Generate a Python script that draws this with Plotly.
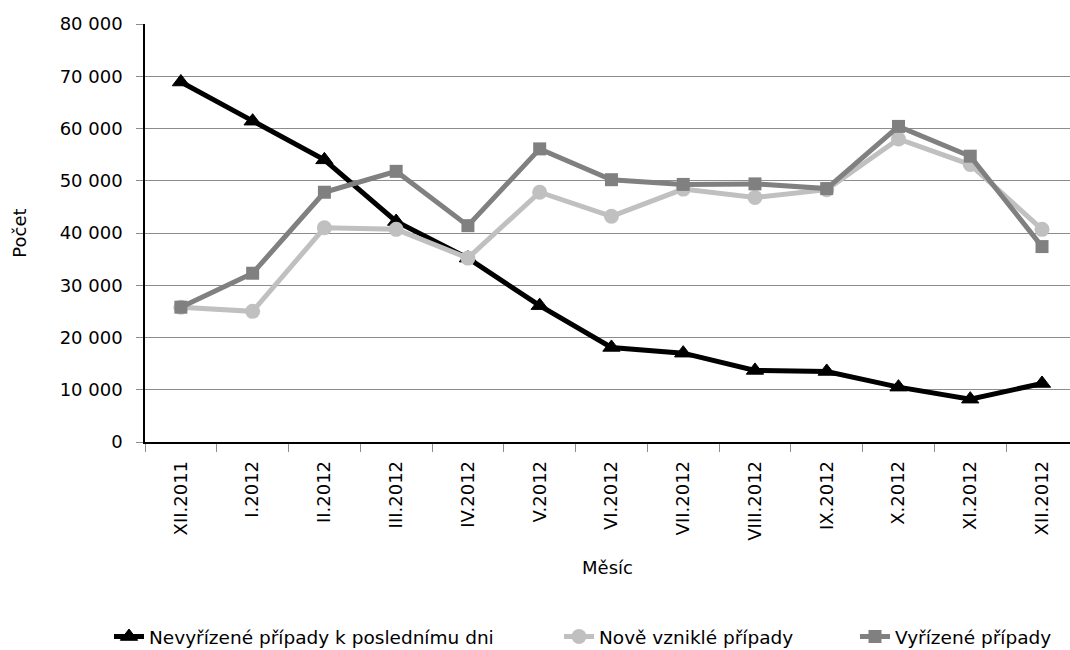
import plotly.graph_objects as go

months = ["XII.2011", "I.2012", "II.2012", "III.2012", "IV.2012", "V.2012", "VI.2012",
          "VII.2012", "VIII.2012", "IX.2012", "X.2012", "XI.2012", "XII.2012"]
nevyrizene = [68900, 61400, 54000, 42200, 35200, 26100, 18100, 17000, 13700, 13500, 10500, 8200, 11200]
nove = [25800, 25000, 41000, 40700, 35200, 47800, 43200, 48400, 46800, 48300, 58000, 53100, 40700]
vyrizene = [25800, 32300, 47800, 51800, 41400, 56100, 50200, 49300, 49400, 48500, 60400, 54700, 37400]

y_tickvals = [0, 10000, 20000, 30000, 40000, 50000, 60000, 70000, 80000]
y_ticktext = ["0", "10 000", "20 000", "30 000", "40 000", "50 000", "60 000", "70 000", "80 000"]

FONT = "DejaVu Sans"

fig = go.Figure()
fig.add_trace(go.Scatter(
    x=months, y=nevyrizene, mode="lines+markers",
    name="Nevyřízené případy k poslednímu dni", legend="legend",
    line=dict(color="#000000", width=5),
    marker=dict(symbol="triangle-up", size=15, color="#000000",
                line=dict(color="#000000", width=1)),
))
fig.add_trace(go.Scatter(
    x=months, y=nove, mode="lines+markers",
    name="Nově vzniklé případy", legend="legend2",
    line=dict(color="#C0C0C0", width=5),
    marker=dict(symbol="circle", size=15, color="#C0C0C0"),
))
fig.add_trace(go.Scatter(
    x=months, y=vyrizene, mode="lines+markers",
    name="Vyřízené případy", legend="legend3",
    line=dict(color="#808080", width=5),
    marker=dict(symbol="square", size=13, color="#808080"),
))

leg_common = dict(orientation="h", xref="container", yref="container",
                  y=0.02, xanchor="left", yanchor="middle",
                  bgcolor="rgba(0,0,0,0)",
                  font=dict(family=FONT, size=18.5, color="#000000"))

fig.update_layout(
    width=1070, height=650,
    margin=dict(l=145, r=0, t=24, b=208),
    paper_bgcolor="white", plot_bgcolor="white",
    font=dict(family=FONT, size=18, color="#000000"),
    showlegend=True,
    legend=dict(x=109 / 1070, **leg_common),
    legend2=dict(x=559 / 1070, **leg_common),
    legend3=dict(x=855 / 1070, **leg_common),
    xaxis=dict(
        type="category", range=[-0.5, 12.39],
        showgrid=False, showline=True, linecolor="#000000", linewidth=1.5,
        ticks="outside", tickson="boundaries", ticklen=8, tickcolor="#8c8c8c",
        tickangle=-90, ticklabelstandoff=10,
        title=dict(text="Měsíc", standoff=22, font=dict(family=FONT, size=18)),
        tickfont=dict(family=FONT, size=18),
        zeroline=False,
    ),
    yaxis=dict(
        range=[0, 80000], tickvals=y_tickvals, ticktext=y_ticktext,
        showgrid=True, gridcolor="#8c8c8c", gridwidth=1,
        showline=True, linecolor="#000000", linewidth=1.5,
        ticks="outside", ticklen=7, tickcolor="#8c8c8c",
        ticklabelstandoff=10,
        title=dict(text="Počet", standoff=28, font=dict(family=FONT, size=18)),
        tickfont=dict(family=FONT, size=18),
        zeroline=False,
    ),
)

fig.write_html("out.html", config={"displayModeBar": False},
               post_script="document.body.style.margin='0';")
